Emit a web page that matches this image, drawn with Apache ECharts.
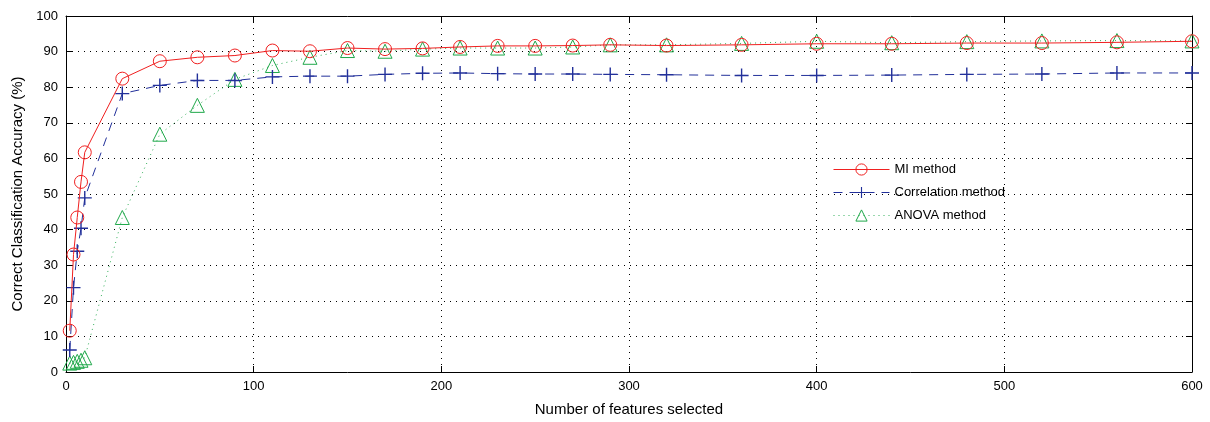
<!DOCTYPE html>
<html><head><meta charset="utf-8">
<script src="https://cdn.jsdelivr.net/npm/echarts@6/dist/echarts.min.js"></script>
<style>html,body{margin:0;padding:0;background:#fff}#c{width:1210px;height:422px}</style>
</head><body><div id="c"></div>
<script>
const features = [2,4,6,8,10,30,50,70,90,110,130,150,170,190,210,230,250,270,290,320,360,400,440,480,520,560,600];
const miAcc = [11.6,33,43.4,53.4,61.7,82.4,87.3,88.4,88.9,90.3,90.1,91,90.7,90.9,91.3,91.6,91.6,91.7,91.9,91.7,91.9,92.2,92.2,92.4,92.4,92.6,92.9];
const corrAcc = [6.2,23.7,33.9,40.4,48.9,78.2,80.5,81.9,81.9,82.9,83.1,83.1,83.6,83.9,84,83.8,83.7,83.7,83.6,83.5,83.3,83.3,83.4,83.6,83.7,84,84];
const anovaAcc = [2.5,2.7,3,3.3,4,43.4,66.8,74.9,82.2,86.1,88.4,90.3,90.1,90.7,91,91,91,91.3,91.9,91.9,92.3,92.9,92.5,92.8,93,93.1,93];
const seriesNames = ['MI method','Correlation method','ANOVA method'];
const xTitle = 'Number of features selected';
const yTitle = 'Correct Classification Accuracy (%)';

const pairs = arr => features.map((x,i)=>[x,arr[i]]);
const FONT = 'Liberation Sans, Arial, sans-serif';
const plus = 'path://M-1,-0.1L1,-0.1L1,0.1L-1,0.1ZM-0.1,-1L0.1,-1L0.1,1L-0.1,1Z';
const gridLine = {show:true, lineStyle:{color:'#000', type:[1,5], width:1}};
const axisLine = {show:true, onZero:false, lineStyle:{color:'#000', width:1}};
const NONE = 'rgba(0,0,0,0)';
const chart = echarts.init(document.getElementById('c'), null, {renderer:'canvas'});
chart.setOption({
  animation:false,
  backgroundColor:'#fff',
  textStyle:{fontFamily:FONT},
  grid:{left:66, right:18, top:16, bottom:47, containLabel:false},
  legend:{
    orient:'vertical', left:828, top:158, itemWidth:56, itemHeight:14, itemGap:10,
    itemStyle:{borderWidth:1},
    lineStyle:{width:1},
    textStyle:{fontFamily:FONT, fontSize:13, color:'#000'},
    data:seriesNames
  },
  xAxis:[{
    type:'value', min:0, max:600, interval:100,
    name:xTitle, nameLocation:'middle', nameGap:30,
    nameTextStyle:{fontFamily:FONT, fontSize:15, color:'#000'},
    axisLine:axisLine, axisTick:{show:true, inside:true, length:6, lineStyle:{color:'#000'}},
    axisLabel:{color:'#000', fontSize:13, fontFamily:FONT, margin:8},
    splitLine:gridLine
  },{
    type:'value', min:0, max:600, interval:100, position:'top',
    axisLine:axisLine, axisTick:{show:true, inside:true, length:6, lineStyle:{color:'#000'}},
    axisLabel:{show:false}, splitLine:{show:false}
  }],
  yAxis:[{
    type:'value', min:0, max:100, interval:10,
    name:yTitle, nameLocation:'middle', nameGap:40,
    nameTextStyle:{fontFamily:FONT, fontSize:15, color:'#000'},
    axisLine:axisLine, axisTick:{show:true, inside:true, length:6, lineStyle:{color:'#000'}},
    axisLabel:{color:'#000', fontSize:13, fontFamily:FONT, margin:8},
    splitLine:gridLine
  },{
    type:'value', min:0, max:100, interval:10, position:'right',
    axisLine:axisLine, axisTick:{show:true, inside:true, length:6, lineStyle:{color:'#000'}},
    axisLabel:{show:false}, splitLine:{show:false}
  }],
  series:[
    {name:seriesNames[0], type:'line', data:pairs(miAcc), symbol:'circle', symbolSize:13,
     itemStyle:{color:NONE, borderColor:'#f02020', borderWidth:1}, lineStyle:{color:'#f02020', width:1}, z:4},
    {name:seriesNames[1], type:'line', data:pairs(corrAcc), symbol:plus, symbolSize:14,
     itemStyle:{color:'#22309a'}, lineStyle:{color:'#22309a', width:1, type:[9,7]}, z:3},
    {name:seriesNames[2], type:'line', data:pairs(anovaAcc), symbol:'triangle', symbolSize:14,
     itemStyle:{color:NONE, borderColor:'#1fa84a', borderWidth:1}, lineStyle:{color:'#33b05a', width:1, type:[1,4]}, z:2}
  ]
});
</script></body></html>
